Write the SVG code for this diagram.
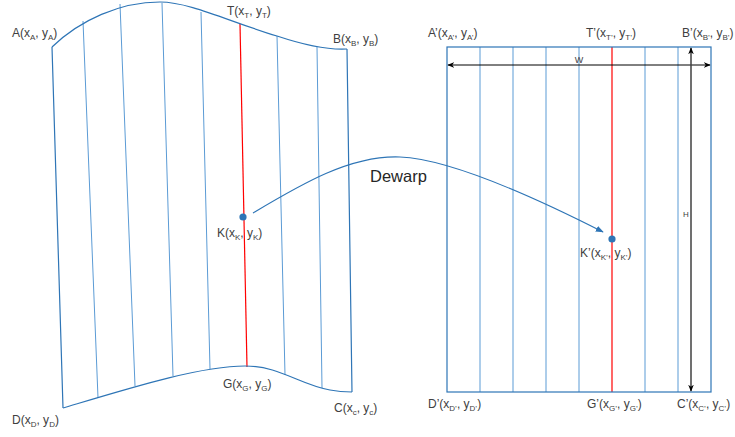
<svg xmlns="http://www.w3.org/2000/svg" width="735" height="437" viewBox="0 0 735 437">
<defs>
<style>
.edge{fill:none;stroke:#2e75b6;stroke-width:1.2}
.grid{fill:none;stroke:#5b9bd5;stroke-width:1}
.red{fill:none;stroke:#ff0000;stroke-width:1.2}
.lbl{font-family:"Liberation Sans",Arial,sans-serif;font-size:12px;fill:#404040}
.sub{font-size:8px}
.dot{fill:#2e75b6}
.dim{fill:none;stroke:#000;stroke-width:1}
</style>
<marker id="ab" viewBox="0 0 10 10" refX="9" refY="5" markerWidth="8" markerHeight="8" markerUnits="userSpaceOnUse" orient="auto">
<path d="M0,1 L10,5 L0,9 Z" fill="#2e75b6"/>
</marker>
<marker id="ak" viewBox="0 0 10 10" refX="9" refY="5" markerWidth="7" markerHeight="7" markerUnits="userSpaceOnUse" orient="auto-start-reverse">
<path d="M0,1 L10,5 L0,9 L3,5 Z" fill="#000"/>
</marker>
</defs>
<rect width="735" height="437" fill="#fff"/>

<g id="warped-page">
<path class="grid" d="M83,21 L98,398 M120,4 L135,386 M162,3 L173,376 M201,12 L210,369 M277,36 L285,375 M317,47 L322,388"/>
<path class="red" d="M240,24 L247,367"/>
<path class="edge" d="M52,47 C80,20 120,2 160,2 C190,2 230,22 277,36 C310,47 330,50 347,49"/>
<path class="edge" d="M63,408 C130,388 200,366 245,366 C280,366 300,385 330,390 C340,392 348,392 352,392"/>
<path class="edge" d="M52,47 L63,408 M347,49 L352,392"/>
</g>

<g id="flat-page">
<path class="grid" d="M480,47 V392 M513,47 V392 M546,47 V392 M579,47 V392 M645,47 V392 M678,47 V392"/>
<path class="red" d="M612,47 V392"/>
<rect class="edge" x="447" y="47" width="264" height="345"/>
</g>

<g id="label-A"><text class="lbl" x="12" y="37">A(x<tspan class="sub" dy="3">A</tspan><tspan dy="-3">, y</tspan><tspan class="sub" dy="3">A</tspan><tspan dy="-3">)</tspan></text></g>
<g id="label-T"><text class="lbl" x="227" y="15">T(x<tspan class="sub" dy="3">T</tspan><tspan dy="-3">, y</tspan><tspan class="sub" dy="3">T</tspan><tspan dy="-3">)</tspan></text></g>
<g id="label-B"><text class="lbl" x="333" y="43">B(x<tspan class="sub" dy="3">B</tspan><tspan dy="-3">, y</tspan><tspan class="sub" dy="3">B</tspan><tspan dy="-3">)</tspan></text></g>
<g id="label-D"><text class="lbl" x="12" y="424">D(x<tspan class="sub" dy="3">D</tspan><tspan dy="-3">, y</tspan><tspan class="sub" dy="3">D</tspan><tspan dy="-3">)</tspan></text></g>
<g id="label-G"><text class="lbl" x="223" y="388">G(x<tspan class="sub" dy="3">G</tspan><tspan dy="-3">, y</tspan><tspan class="sub" dy="3">G</tspan><tspan dy="-3">)</tspan></text></g>
<g id="label-C"><text class="lbl" x="334" y="412">C(x<tspan class="sub" dy="3">c</tspan><tspan dy="-3">, y</tspan><tspan class="sub" dy="3">c</tspan><tspan dy="-3">)</tspan></text></g>

<g id="label-A2"><text class="lbl" x="428" y="37">A’(x<tspan class="sub" dy="3">A’</tspan><tspan dy="-3">, y</tspan><tspan class="sub" dy="3">A’</tspan><tspan dy="-3">)</tspan></text></g>
<g id="label-T2"><text class="lbl" x="586" y="37">T’(x<tspan class="sub" dy="3">T’</tspan><tspan dy="-3">, y</tspan><tspan class="sub" dy="3">T’</tspan><tspan dy="-3">)</tspan></text></g>
<g id="label-B2"><text class="lbl" x="682" y="37">B’(x<tspan class="sub" dy="3">B’</tspan><tspan dy="-3">, y</tspan><tspan class="sub" dy="3">B’</tspan><tspan dy="-3">)</tspan></text></g>
<g id="label-D2"><text class="lbl" x="428" y="408">D’(x<tspan class="sub" dy="3">D’</tspan><tspan dy="-3">, y</tspan><tspan class="sub" dy="3">D’</tspan><tspan dy="-3">)</tspan></text></g>
<g id="label-G2"><text class="lbl" x="587" y="408">G’(x<tspan class="sub" dy="3">G’</tspan><tspan dy="-3">, y</tspan><tspan class="sub" dy="3">G’</tspan><tspan dy="-3">)</tspan></text></g>
<g id="label-C2"><text class="lbl" x="677" y="408">C’(x<tspan class="sub" dy="3">C’</tspan><tspan dy="-3">, y</tspan><tspan class="sub" dy="3">C’</tspan><tspan dy="-3">)</tspan></text></g>

<g id="point-K">
<circle class="dot" cx="243" cy="217" r="3.6"/>
<text class="lbl" x="217" y="237">K(x<tspan class="sub" dy="3">K</tspan><tspan dy="-3">, y</tspan><tspan class="sub" dy="3">K</tspan><tspan dy="-3">)</tspan></text>
</g>
<g id="point-K2">
<circle class="dot" cx="612" cy="239" r="3.6"/>
<text class="lbl" x="580" y="257">K’(x<tspan class="sub" dy="3">K’</tspan><tspan dy="-3">, y</tspan><tspan class="sub" dy="3">K’</tspan><tspan dy="-3">)</tspan></text>
</g>

<g id="connectors">
<path d="M253,213 C300,185 350,155 400,157 C450,159 540,200 603,232" fill="none" stroke="#2e75b6" stroke-width="1.1" marker-end="url(#ab)"/>
<text x="370" y="182" font-family="'Liberation Sans',Arial,sans-serif" font-size="16.5" fill="#262626">Dewarp</text>
<line class="dim" x1="448" y1="65" x2="710" y2="65" marker-start="url(#ak)" marker-end="url(#ak)"/>
<text x="579" y="63" text-anchor="middle" font-family="'Liberation Sans',Arial,sans-serif" font-size="9" fill="#404040">W</text>
<line x1="691" y1="48" x2="691" y2="391" stroke="#404040" stroke-width="1.5" marker-start="url(#ak)" marker-end="url(#ak)"/>
<text x="686" y="217" text-anchor="middle" font-family="'Liberation Sans',Arial,sans-serif" font-size="8" fill="#404040">H</text>
</g>
</svg>
